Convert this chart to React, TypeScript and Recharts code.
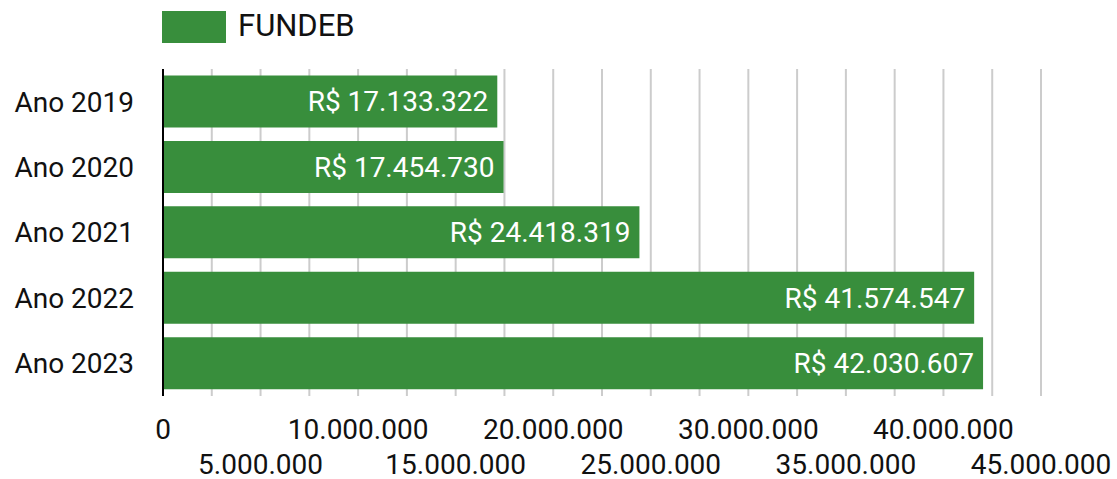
import React from 'react';
import { BarChart, Bar, XAxis, YAxis, CartesianGrid, LabelList, Legend } from 'recharts';

const categories = ['Ano 2019', 'Ano 2020', 'Ano 2021', 'Ano 2022', 'Ano 2023'];
const fundebValues = [17133322, 17454730, 24418319, 41574547, 42030607];
const gridTicks = [0, 2500000, 5000000, 7500000, 10000000, 12500000, 15000000, 17500000, 20000000, 22500000, 25000000, 27500000, 30000000, 32500000, 35000000, 37500000, 40000000, 42500000, 45000000];
const seriesName = 'FUNDEB';
const barColor = '#388e3c';

const data = categories.map((c, i) => ({ ano: c, value: fundebValues[i] }));

const FONT = 'Roboto, sans-serif';

function fmt(n: number): string {
  const s = Math.round(n).toString();
  return s.replace(/\B(?=(\d{3})+(?!\d))/g, '.');
}

const XTick = (props: any) => {
  const { x, payload } = props;
  const v = payload.value as number;
  if (v % 5000000 !== 0) return null;
  const row = (v / 5000000) % 2;
  const base = 396;
  const ty = row === 0 ? base + 43 : base + 78;
  return (
    <text x={x} y={ty} textAnchor="middle" fill="#111" fontSize={28} fontFamily={FONT}>
      {fmt(v)}
    </text>
  );
};

const LegendContent = (props: any) => {
  const item = (props.payload && props.payload[0]) || { value: seriesName, color: barColor };
  return (
    <div style={{ position: 'relative', width: 1117, height: 54 }}>
      <div style={{ position: 'absolute', left: 162, top: 11, width: 64, height: 32, background: item.color || barColor }} />
      <div style={{ position: 'absolute', left: 238, top: 6, fontSize: 31, lineHeight: '40px', fontFamily: FONT, color: '#111' }}>
        {item.value}
      </div>
    </div>
  );
};

export default function App() {
  return (
    <div style={{ position: 'absolute', left: 0, top: 0 }}>
      <BarChart
        width={1117}
        height={479}
        data={data}
        layout="vertical"
        margin={{ top: 15, right: 76, bottom: 0, left: 0 }}
        barCategoryGap="10%"
      >
        <CartesianGrid horizontal={false} stroke="#cccccc" strokeWidth={2} />
        <XAxis
          type="number"
          domain={[0, 45000000]}
          ticks={gridTicks}
          interval={0}
          axisLine={false}
          tickLine={false}
          height={83}
          tick={<XTick />}
        />
        <YAxis
          type="category"
          dataKey="ano"
          width={163}
          axisLine={{ stroke: '#000', strokeWidth: 2 }}
          tickLine={false}
          tickMargin={23}
          tick={{ fill: '#111', fontSize: 28, fontFamily: FONT }}
        />
        <Legend
          verticalAlign="top"
          align="left"
          height={54}
          wrapperStyle={{ top: 0, left: 0 }}
          content={<LegendContent />}
        />
        <Bar dataKey="value" name={seriesName} fill={barColor} isAnimationActive={false}>
          <LabelList
            dataKey="value"
            position="insideRight"
            offset={9}
            fill="#ffffff"
            fontSize={28}
            fontFamily={FONT}
            formatter={(v: any) => 'R$ ' + fmt(Number(v))}
          />
        </Bar>
      </BarChart>
    </div>
  );
}
